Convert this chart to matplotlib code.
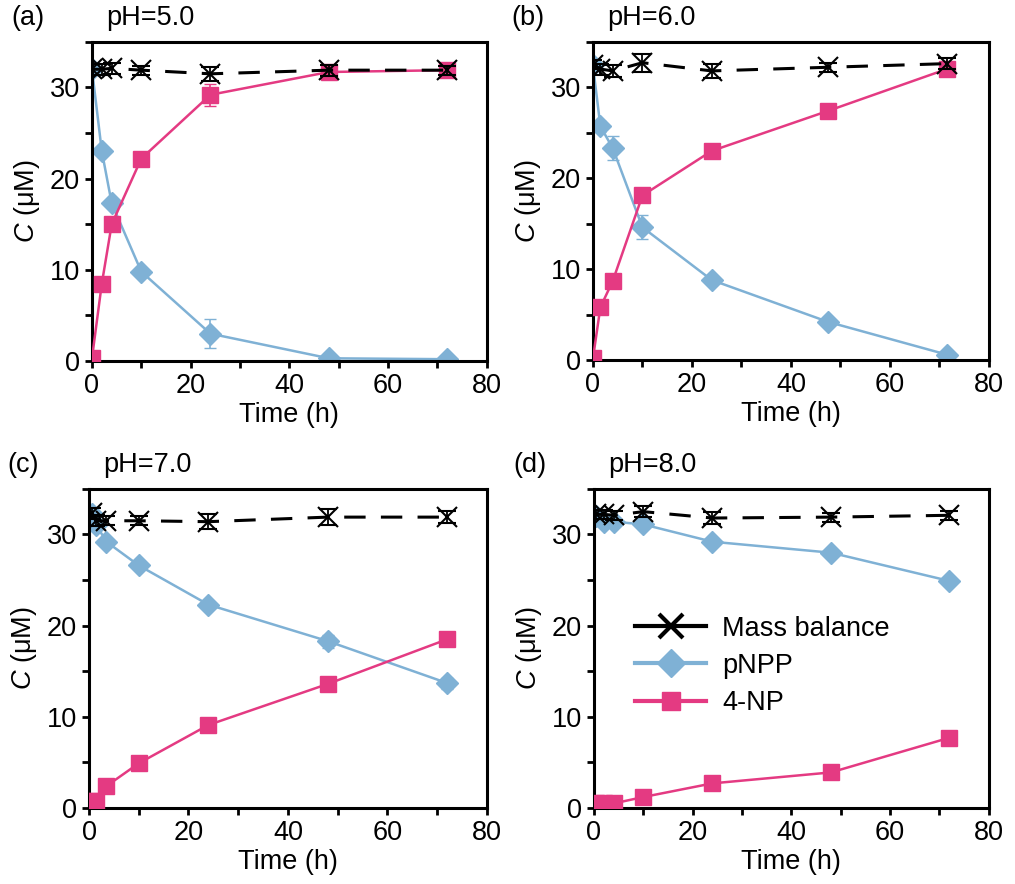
import matplotlib
matplotlib.use("Agg")
import matplotlib.pyplot as plt
from matplotlib.lines import Line2D
from matplotlib.ticker import MultipleLocator

plt.rcParams.update({
    "font.family": ["Liberation Sans", "DejaVu Sans"],
    "font.size": 19,
    "mathtext.fontset": "custom",
    "mathtext.rm": "Liberation Sans",
    "mathtext.it": "Liberation Sans:italic",
})

BLUE = "#7FB1D5"
PINK = "#E43A82"

# ---- data (time in h, concentration in uM) ----
panel_tags = ["(a)", "(b)", "(c)", "(d)"]
panel_ph = ["pH=5.0", "pH=6.0", "pH=7.0", "pH=8.0"]

time_a = [0, 2, 4, 10, 24, 48, 72]
pnpp_a = [32.0, 23.0, 17.3, 9.8, 3.0, 0.3, 0.2]
pnpp_a_err = [0.3, 0.4, 0.4, 0.4, 1.6, 0.1, 0.1]
np_a = [0.3, 8.5, 15.0, 22.2, 29.2, 31.7, 31.9]
np_a_err = [0.1, 0.3, 0.4, 0.4, 1.2, 0.4, 0.3]
mb_a = [32.0, 32.0, 32.1, 31.9, 31.5, 31.9, 31.9]
mb_a_err = [0.6, 0.6, 0.6, 0.5, 0.8, 0.6, 0.5]

time_b = [0, 1.5, 4, 10, 24, 47.5, 71.5]
pnpp_b = [32.4, 25.7, 23.3, 14.6, 8.8, 4.2, 0.6]
pnpp_b_err = [0.3, 0.6, 1.3, 1.3, 0.4, 0.3, 0.2]
np_b = [0.2, 5.8, 8.7, 18.1, 23.0, 27.4, 32.0]
np_b_err = [0.1, 0.3, 0.4, 0.5, 0.4, 0.4, 0.6]
mb_b = [32.5, 32.0, 31.8, 32.7, 31.8, 32.2, 32.6]
mb_b_err = [0.5, 0.6, 0.7, 1.0, 0.8, 0.5, 0.6]

time_c = [0.5, 1.5, 3.5, 10, 24, 48, 72]
pnpp_c = [32.2, 31.0, 29.2, 26.6, 22.3, 18.3, 13.7]
pnpp_c_err = [0.4, 0.4, 0.4, 0.4, 0.4, 0.7, 0.6]
np_c = [0.8, 0.8, 2.4, 4.9, 9.1, 13.6, 18.5]
np_c_err = [0.1, 0.1, 0.2, 0.3, 0.3, 0.3, 0.3]
mb_c = [32.3, 31.5, 31.5, 31.5, 31.4, 31.9, 31.9]
mb_c_err = [0.6, 0.6, 0.5, 0.5, 0.8, 0.9, 0.7]

time_d = [0.5, 2, 4, 10, 24, 48, 72]
pnpp_d = [32.0, 31.4, 31.4, 31.1, 29.2, 28.0, 24.9]
pnpp_d_err = [0.3, 0.3, 0.3, 0.3, 0.3, 0.3, 0.3]
np_d = [0.5, 0.5, 0.5, 1.2, 2.7, 3.9, 7.7]
np_d_err = [0.1, 0.1, 0.1, 0.1, 0.2, 0.2, 0.2]
mb_d = [32.2, 32.2, 32.1, 32.5, 31.8, 31.9, 32.1]
mb_d_err = [0.5, 0.5, 0.5, 0.6, 0.7, 0.5, 0.5]

panels = [
    (time_a, pnpp_a, pnpp_a_err, np_a, np_a_err, mb_a, mb_a_err),
    (time_b, pnpp_b, pnpp_b_err, np_b, np_b_err, mb_b, mb_b_err),
    (time_c, pnpp_c, pnpp_c_err, np_c, np_c_err, mb_c, mb_c_err),
    (time_d, pnpp_d, pnpp_d_err, np_d, np_d_err, mb_d, mb_d_err),
]

# axes boxes in figure fractions [left, bottom, width, height]
boxes = [
    [0.0906, 0.5916, 0.389, 0.361],
    [0.5842, 0.5927, 0.390, 0.360],
    [0.0877, 0.0860, 0.392, 0.361],
    [0.5852, 0.0860, 0.389, 0.361],
]

fig = plt.figure(figsize=(10.15, 8.84), dpi=100)

for i, (box, data) in enumerate(zip(boxes, panels)):
    t, pnpp, pnpp_err, nitro, nitro_err, mb, mb_err = data
    ax = fig.add_axes(box)

    ax.errorbar(t, pnpp, yerr=pnpp_err, color=BLUE, lw=1.8, marker="D",
                ms=11.5, mec=BLUE, ecolor=BLUE, elinewidth=1.2, capsize=4,
                label="pNPP", zorder=2)
    ax.errorbar(t, nitro, yerr=nitro_err, color=PINK, lw=1.8, marker="s",
                ms=11, mec=PINK, ecolor=PINK, elinewidth=1.2, capsize=4,
                label="4-NP", zorder=3)
    ax.errorbar(t, mb, yerr=mb_err, color="black", lw=2.2, ls=(0, (7, 5)),
                marker="x", ms=14, mew=1.5, ecolor="black", elinewidth=1.3,
                capsize=6.5, label="Mass balance", zorder=4)

    ax.set_xlim(0, 80)
    ax.set_ylim(0, 35)
    ax.xaxis.set_major_locator(MultipleLocator(20))
    ax.xaxis.set_minor_locator(MultipleLocator(10))
    ax.yaxis.set_major_locator(MultipleLocator(10))
    ax.yaxis.set_minor_locator(MultipleLocator(5))
    ax.tick_params(which="both", direction="out", width=2, length=5, labelsize=19.5)
    for sp in ax.spines.values():
        sp.set_linewidth(2.2)
    ax.set_xlabel("Time (h)", fontsize=19.5, labelpad=2)
    ax.set_ylabel(r"$C$ (μM)", fontsize=19.5, labelpad=6)

    ax.text(-0.205, 1.035, panel_tags[i], transform=ax.transAxes, fontsize=19.5,
            va="bottom", ha="left")
    ax.text(0.035, 1.035, panel_ph[i], transform=ax.transAxes, fontsize=19.5,
            va="bottom", ha="left")

    if i == 3:
        handles = [
            Line2D([], [], color="black", lw=3, marker="x", ms=17, mew=3),
            Line2D([], [], color=BLUE, lw=3, marker="D", ms=14),
            Line2D([], [], color=PINK, lw=3, marker="s", ms=13),
        ]
        ax.legend(handles, ["Mass balance", "pNPP", "4-NP"], loc="center left",
                  bbox_to_anchor=(0.105, 0.445), frameon=False, fontsize=19.5,
                  handlelength=2.6, handletextpad=0.6, labelspacing=0.42,
                  borderpad=0, borderaxespad=0)

fig.savefig("out.png", dpi=100)
